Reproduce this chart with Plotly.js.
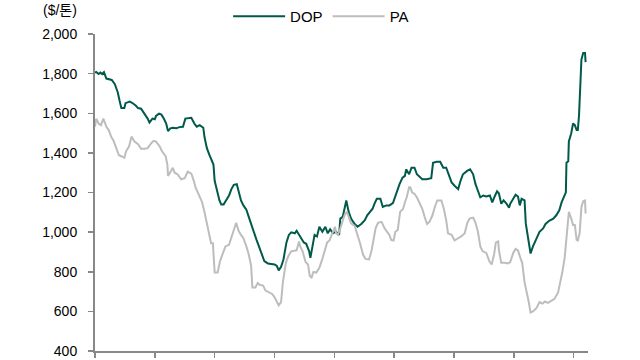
<!DOCTYPE html>
<html>
<head>
<meta charset="utf-8">
<script src="https://cdn.plot.ly/plotly-3.0.1.min.js"></script>
<style>html,body{margin:0;padding:0;background:#fff;}#chart{width:640px;height:360px;}</style>
</head>
<body>
<div id="chart"></div>
<script>
// DOP price ($/ton), x in decimal years
const dopX = [2013.00,2013.02,2013.06,2013.09,2013.12,2013.15,2013.19,2013.23,2013.28,2013.33,2013.38,2013.41,2013.44,2013.49,2013.51,2013.58,2013.62,2013.68,2013.72,2013.77,2013.83,2013.88,2013.91,2013.96,2014.00,2014.02,2014.07,2014.11,2014.15,2014.19,2014.22,2014.26,2014.30,2014.36,2014.41,2014.47,2014.51,2014.57,2014.61,2014.66,2014.70,2014.75,2014.81,2014.83,2014.87,2014.91,2014.96,2014.98,2015.00,2015.04,2015.08,2015.11,2015.15,2015.19,2015.24,2015.28,2015.32,2015.37,2015.40,2015.44,2015.48,2015.53,2015.57,2015.61,2015.65,2015.70,2015.74,2015.78,2015.83,2015.89,2015.95,2016.00,2016.04,2016.07,2016.11,2016.15,2016.20,2016.24,2016.28,2016.34,2016.37,2016.41,2016.45,2016.49,2016.53,2016.58,2016.60,2016.63,2016.67,2016.71,2016.75,2016.80,2016.85,2016.89,2016.93,2016.98,2017.03,2017.08,2017.10,2017.14,2017.17,2017.20,2017.24,2017.28,2017.34,2017.39,2017.45,2017.51,2017.55,2017.59,2017.64,2017.67,2017.71,2017.77,2017.81,2017.87,2017.92,2017.98,2018.04,2018.09,2018.14,2018.18,2018.20,2018.25,2018.29,2018.34,2018.38,2018.43,2018.47,2018.54,2018.62,2018.65,2018.71,2018.77,2018.82,2018.87,2018.92,2018.96,2019.01,2019.07,2019.11,2019.15,2019.22,2019.27,2019.32,2019.36,2019.40,2019.44,2019.49,2019.54,2019.60,2019.64,2019.68,2019.72,2019.75,2019.79,2019.83,2019.88,2019.92,2019.94,2019.99,2020.03,2020.07,2020.10,2020.13,2020.18,2020.20,2020.24,2020.28,2020.32,2020.38,2020.43,2020.49,2020.53,2020.59,2020.66,2020.71,2020.76,2020.80,2020.83,2020.87,2020.88,2020.91,2020.92,2020.96,2020.99,2021.02,2021.05,2021.07,2021.09,2021.11,2021.13,2021.16,2021.19,2021.20];
const dopY = [1805,1808,1798,1805,1798,1808,1775,1772,1768,1748,1706,1664,1626,1626,1651,1659,1653,1639,1626,1623,1598,1573,1553,1573,1570,1587,1598,1593,1573,1548,1510,1524,1527,1524,1530,1532,1573,1577,1577,1548,1532,1540,1527,1480,1424,1391,1350,1341,1259,1209,1160,1140,1140,1160,1185,1217,1239,1242,1201,1160,1135,1113,1077,1041,994,961,928,895,854,842,840,837,829,807,825,862,948,986,999,994,1007,986,969,948,941,903,870,928,986,978,1027,1002,1027,994,1014,994,1002,986,1068,1077,1118,1160,1102,1068,1041,1027,1041,1060,1085,1102,1118,1143,1168,1168,1127,1135,1135,1146,1200,1242,1275,1284,1317,1292,1325,1325,1292,1279,1267,1267,1272,1350,1355,1355,1325,1325,1284,1251,1234,1217,1259,1292,1309,1317,1292,1242,1209,1176,1185,1180,1185,1150,1180,1206,1196,1143,1160,1143,1123,1143,1168,1189,1180,1135,1168,1160,1044,978,892,928,969,1002,1019,1041,1057,1068,1085,1110,1151,1176,1201,1350,1358,1458,1499,1548,1540,1515,1515,1590,1722,1871,1904,1904,1858];

// PA price ($/ton), x in decimal years
const paX = [2013.00,2013.02,2013.06,2013.10,2013.14,2013.19,2013.23,2013.27,2013.31,2013.35,2013.40,2013.44,2013.49,2013.52,2013.57,2013.61,2013.66,2013.72,2013.77,2013.83,2013.88,2013.94,2013.98,2014.02,2014.08,2014.12,2014.18,2014.21,2014.22,2014.27,2014.30,2014.33,2014.38,2014.44,2014.50,2014.55,2014.61,2014.65,2014.68,2014.74,2014.79,2014.83,2014.87,2014.90,2014.94,2014.97,2015.00,2015.05,2015.09,2015.14,2015.18,2015.24,2015.28,2015.32,2015.36,2015.40,2015.44,2015.48,2015.53,2015.57,2015.61,2015.63,2015.68,2015.72,2015.76,2015.81,2015.85,2015.91,2015.96,2016.00,2016.04,2016.07,2016.11,2016.14,2016.19,2016.23,2016.28,2016.34,2016.37,2016.41,2016.43,2016.47,2016.52,2016.56,2016.59,2016.62,2016.65,2016.70,2016.75,2016.80,2016.84,2016.88,2016.92,2016.97,2017.01,2017.03,2017.06,2017.10,2017.14,2017.17,2017.21,2017.24,2017.28,2017.34,2017.39,2017.43,2017.48,2017.52,2017.58,2017.62,2017.66,2017.69,2017.73,2017.79,2017.84,2017.88,2017.92,2017.95,2017.99,2018.02,2018.06,2018.10,2018.15,2018.18,2018.21,2018.25,2018.27,2018.30,2018.34,2018.38,2018.43,2018.47,2018.51,2018.55,2018.59,2018.64,2018.68,2018.72,2018.79,2018.83,2018.87,2018.90,2018.96,2019.01,2019.07,2019.12,2019.18,2019.22,2019.26,2019.32,2019.36,2019.40,2019.44,2019.48,2019.54,2019.59,2019.63,2019.67,2019.70,2019.74,2019.75,2019.79,2019.85,2019.90,2019.94,2019.99,2020.03,2020.07,2020.11,2020.14,2020.18,2020.22,2020.25,2020.28,2020.32,2020.38,2020.43,2020.48,2020.52,2020.57,2020.63,2020.68,2020.74,2020.77,2020.81,2020.85,2020.89,2020.92,2020.96,2020.99,2021.02,2021.05,2021.07,2021.10,2021.13,2021.16,2021.19,2021.20];
const paY = [1532,1573,1548,1540,1573,1532,1515,1482,1461,1424,1388,1383,1375,1408,1433,1482,1457,1444,1421,1421,1424,1449,1461,1457,1433,1408,1383,1341,1284,1309,1325,1300,1292,1267,1272,1305,1295,1260,1226,1185,1151,1102,1041,986,944,944,796,796,854,895,928,936,969,1011,1047,1007,986,969,928,887,829,721,721,743,733,730,705,696,688,672,650,630,647,746,845,878,903,908,908,953,928,903,849,837,779,771,799,796,820,865,911,948,958,994,1027,994,986,1019,1052,1085,1102,1077,1044,1031,986,944,887,865,862,903,969,1019,1047,1052,1019,1002,986,961,958,1002,1011,1102,1118,1151,1176,1226,1226,1201,1193,1176,1143,1118,1077,1041,1052,1085,1127,1160,1160,1118,1060,994,986,958,969,978,994,1044,1068,1073,1047,1002,928,903,895,854,837,887,948,953,911,845,845,842,849,895,915,908,870,845,746,696,647,594,600,617,647,639,650,643,655,663,696,738,796,870,994,1102,1068,1036,1036,961,958,994,1127,1156,1160,1094];

const yTicks = [400,600,800,1000,1200,1400,1600,1800,2000];
const yTickText = ['400','600','800','1,000','1,200','1,400','1,600','1,800','2,000'];
const xTicks = [2013,2014,2015,2016,2017,2018,2019,2020,2021];

const FONT = 'Liberation Sans, Noto Sans CJK KR, sans-serif';

const traces = [
  {x: dopX, y: dopY, name: 'DOP', type: 'scatter', mode: 'lines',
   line: {color: '#005A4B', width: 2}},
  {x: paX, y: paY, name: 'PA', type: 'scatter', mode: 'lines',
   line: {color: '#BDBDBD', width: 2}}
];

const layout = {
  width: 640, height: 360,
  margin: {l: 95, r: 52, t: 34, b: 9, autoexpand: false},
  paper_bgcolor: '#ffffff', plot_bgcolor: '#ffffff',
  font: {family: FONT, size: 14, color: '#000'},
  showlegend: true,
  legend: {orientation: 'h', x: 0.27, xanchor: 'left', y: 1.055, yanchor: 'middle',
           font: {family: FONT, size: 15, color: '#000'}, itemwidth: 52, bgcolor: 'rgba(0,0,0,0)'},
  xaxis: {range: [2013, 2021.24], showgrid: false, zeroline: false,
          showline: true, linecolor: '#888888', linewidth: 2,
          tickmode: 'array', tickvals: xTicks, ticks: 'outside', ticklen: 5, tickwidth: 1.5,
          tickcolor: '#888888', showticklabels: false, fixedrange: true},
  yaxis: {range: [400, 2000], showgrid: false, zeroline: false,
          showline: true, linecolor: '#888888', linewidth: 2,
          tickmode: 'array', tickvals: yTicks, ticktext: yTickText,
          ticks: 'outside', ticklen: 5, tickwidth: 1.5, tickcolor: '#888888',
          ticklabelstandoff: 8, ticklabeloverflow: 'allow',
          tickfont: {family: FONT, size: 14, color: '#000'}, fixedrange: true},
  annotations: [
    {text: '($/톤)', xref: 'paper', yref: 'paper', x: -0.072, y: 1.075, xanchor: 'center', yanchor: 'middle',
     showarrow: false, font: {family: FONT, size: 14, color: '#000'}}
  ]
};

Plotly.newPlot('chart', traces, layout, {displayModeBar: false, staticPlot: true});
</script>
</body>
</html>
